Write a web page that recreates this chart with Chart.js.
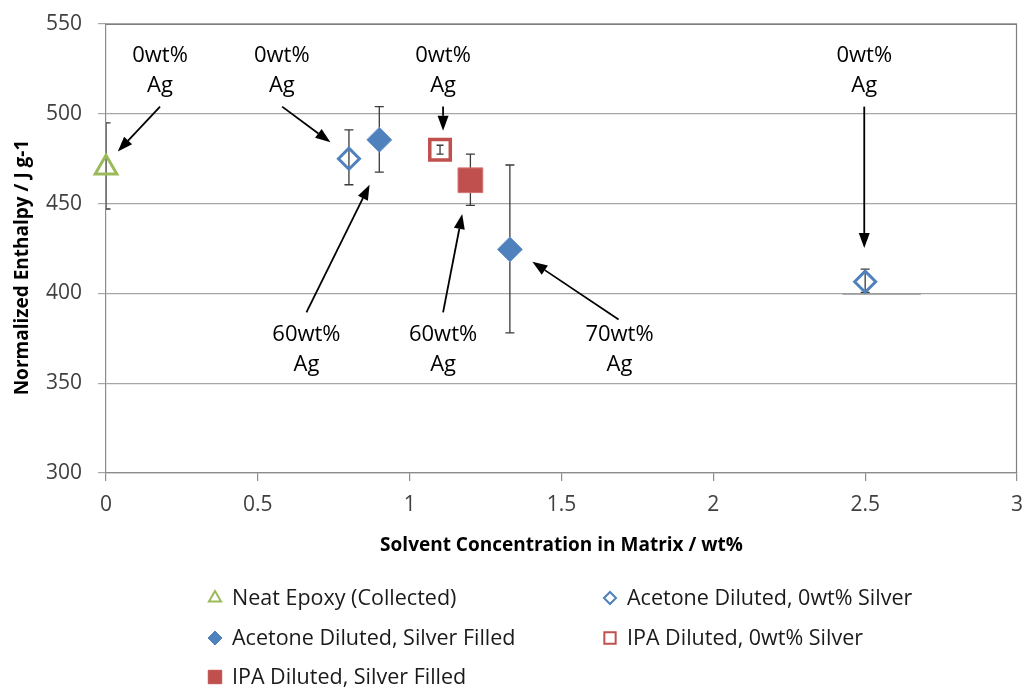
<!DOCTYPE html>
<html>
<head>
<meta charset="utf-8">
<title>Normalized Enthalpy vs Solvent Concentration</title>
<script src="https://cdn.jsdelivr.net/npm/chart.js@4.4.1/dist/chart.umd.min.js"></script>
<style>
  html, body { margin: 0; padding: 0; background: #fff; overflow: hidden; }
  canvas { display: block; }
</style>
</head>
<body>
<canvas id="chart" width="1025" height="689"></canvas>
<script>
/* ---- values ---- */
const neatX = [0];
const neatY = [470];
const neatLo = [447];
const neatHi = [495];

const acetone0X = [0.8, 2.5];
const acetone0Y = [475, 406.5];
const acetone0Lo = [460.5, 400.5];
const acetone0Hi = [491, 413.5];

const acetoneAgX = [0.9, 1.33];
const acetoneAgY = [485.5, 424.5];
const acetoneAgLo = [467.5, 378];
const acetoneAgHi = [504, 471.5];

const ipa0X = [1.1];
const ipa0Y = [480];
const ipa0Lo = [477.5];
const ipa0Hi = [482.5];

const ipaAgX = [1.2];
const ipaAgY = [463];
const ipaAgLo = [449];
const ipaAgHi = [477.5];

// short grey segment sitting on the 400 line near x = 2.5
const strayX = [2.425, 2.683];
const strayY = [399.7, 399.7];

const xTicks = [0, 0.5, 1, 1.5, 2, 2.5, 3];
const yTicks = [300, 350, 400, 450, 500, 550];

// callouts: label lines, label anchor, arrow start and tip (data units)
const noteText = [
  ['0wt%', 'Ag'], ['0wt%', 'Ag'], ['0wt%', 'Ag'], ['0wt%', 'Ag'],
  ['60wt%', 'Ag'], ['60wt%', 'Ag'], ['70wt%', 'Ag']
];
const noteAt = [[0.178, 532.3], [0.579, 532.3], [1.110, 532.3], [2.497, 532.3],
                [0.660, 377.1], [1.110, 377.1], [1.691, 377.1]];
const arrowFrom = [[0.178, 504], [0.580, 504], [1.110, 504], [2.497, 504],
                   [0.660, 389.4], [1.110, 389.4], [1.688, 385.5]];
const arrowTo = [[0.039, 479], [0.739, 484.1], [1.110, 490.6], [2.497, 425.3],
                 [0.868, 460.5], [1.173, 444.2], [1.404, 417.6]];

const yTitle = 'Normalized Enthalpy / J g-1';

const GREEN = '#9BBB59';
const BLUE = '#4F81BD';
const RED = '#C0504D';

const toPts = (xs, ys) => xs.map((x, i) => ({ x, y: ys[i] }));

Chart.defaults.font.family = "'Open Sans', sans-serif";
Chart.defaults.color = '#404040';

// Error bars drawn behind the markers
const errorBars = {
  id: 'errorBars',
  beforeDatasetsDraw(chart) {
    const { ctx, chartArea, scales: { x, y } } = chart;
    ctx.save();
    ctx.beginPath();
    ctx.rect(chartArea.left, chartArea.top, chartArea.right - chartArea.left, chartArea.bottom - chartArea.top);
    ctx.clip();
    ctx.strokeStyle = '#3a3a3a';
    ctx.lineWidth = 1.3;
    chart.data.datasets.forEach(ds => {
      if (!ds.errLo) return;
      ds.data.forEach((p, i) => {
        const px = x.getPixelForValue(p.x);
        const top = y.getPixelForValue(ds.errHi[i]);
        const bot = y.getPixelForValue(ds.errLo[i]);
        const cap = ds.capHalf || 4.5;
        ctx.beginPath();
        ctx.moveTo(px, top); ctx.lineTo(px, bot);
        ctx.moveTo(px - cap, top); ctx.lineTo(px + cap, top);
        ctx.moveTo(px - cap, bot); ctx.lineTo(px + cap, bot);
        ctx.stroke();
      });
    });
    ctx.restore();
  }
};

// Frame, y title, callouts and the two-column legend
const extras = {
  id: 'extras',
  afterDraw(chart) {
    const { ctx, chartArea: a, scales: { x, y } } = chart;
    ctx.save();

    // plot frame (top + right)
    ctx.strokeStyle = '#7f7f7f';
    ctx.lineWidth = 1.2;
    ctx.beginPath();
    ctx.moveTo(a.left, a.top + 0.5);
    ctx.lineTo(a.right - 0.5, a.top + 0.5);
    ctx.lineTo(a.right - 0.5, a.bottom);
    ctx.stroke();

    // y axis title (Excel centres it a little below the plot middle)
    ctx.save();
    ctx.translate(23, (a.top + a.bottom) / 2 + 19);
    ctx.rotate(-Math.PI / 2);
    ctx.font = "bold 19px 'Open Sans', sans-serif";
    ctx.fillStyle = '#000';
    ctx.textAlign = 'center';
    ctx.textBaseline = 'middle';
    ctx.fillText(yTitle, 0, 0);
    ctx.restore();

    // callouts
    ctx.fillStyle = '#000';
    ctx.strokeStyle = '#000';
    ctx.font = "22px 'Open Sans', sans-serif";
    ctx.textAlign = 'center';
    ctx.textBaseline = 'middle';
    noteText.forEach((lines, i) => {
      const tx = x.getPixelForValue(noteAt[i][0]);
      const ty = y.getPixelForValue(noteAt[i][1]);
      lines.forEach((t, k) => ctx.fillText(t, tx, ty + k * 30));

      const x0 = x.getPixelForValue(arrowFrom[i][0]);
      const y0 = y.getPixelForValue(arrowFrom[i][1]);
      const x1 = x.getPixelForValue(arrowTo[i][0]);
      const y1 = y.getPixelForValue(arrowTo[i][1]);
      const ang = Math.atan2(y1 - y0, x1 - x0);
      const len = 15, half = 5.5;
      const bx = x1 - Math.cos(ang) * len;
      const by = y1 - Math.sin(ang) * len;
      ctx.lineWidth = 1.8;
      ctx.beginPath();
      ctx.moveTo(x0, y0);
      ctx.lineTo(bx, by);
      ctx.stroke();
      ctx.beginPath();
      ctx.moveTo(x1, y1);
      ctx.lineTo(bx - Math.sin(ang) * half, by + Math.cos(ang) * half);
      ctx.lineTo(bx + Math.sin(ang) * half, by - Math.cos(ang) * half);
      ctx.closePath();
      ctx.fill();
    });

    // legend
    const colX = [215, 610];
    const rowY = [598, 638, 677];
    ctx.textAlign = 'left';
    ctx.font = "21.5px 'Open Sans', sans-serif";
    chart.data.datasets.filter(ds => ds.legendSymbol).forEach((ds, i) => {
      const cx = colX[i % 2];
      const cy = rowY[Math.floor(i / 2)];
      const s = ds.legendSymbol;
      ctx.fillStyle = s.fill;
      ctx.strokeStyle = s.stroke;
      ctx.lineWidth = s.width;
      Chart.helpers.drawPoint(ctx, {
        pointStyle: ds.pointStyle, radius: s.radius, borderWidth: s.width, rotation: 0
      }, cx, cy);
      ctx.fillStyle = '#1a1a1a';
      ctx.fillText(ds.label, cx + 17, cy + 1);
    });
    ctx.restore();
  }
};

new Chart(document.getElementById('chart'), {
  type: 'scatter',
  data: {
    datasets: [
      {
        label: 'Neat Epoxy (Collected)',
        data: toPts(neatX, neatY), errLo: neatLo, errHi: neatHi,
        pointStyle: 'triangle', pointRadius: 12.5, pointBorderWidth: 3,
        pointBorderColor: GREEN, pointBackgroundColor: 'rgba(0,0,0,0)',
        legendSymbol: { radius: 7, width: 2, stroke: GREEN, fill: 'rgba(0,0,0,0)' }
      },
      {
        label: 'Acetone Diluted, 0wt% Silver',
        data: toPts(acetone0X, acetone0Y), errLo: acetone0Lo, errHi: acetone0Hi,
        pointStyle: 'rectRot', pointRadius: 10.5, pointBorderWidth: 3,
        pointBorderColor: BLUE, pointBackgroundColor: 'rgba(0,0,0,0)',
        legendSymbol: { radius: 6, width: 2, stroke: BLUE, fill: 'rgba(0,0,0,0)' }
      },
      {
        label: 'Acetone Diluted, Silver Filled',
        data: toPts(acetoneAgX, acetoneAgY), errLo: acetoneAgLo, errHi: acetoneAgHi,
        pointStyle: 'rectRot', pointRadius: 12.5, pointBorderWidth: 1,
        pointBorderColor: '#6f97cc', pointBackgroundColor: BLUE,
        legendSymbol: { radius: 7, width: 1, stroke: BLUE, fill: BLUE }
      },
      {
        label: 'IPA Diluted, 0wt% Silver',
        data: toPts(ipa0X, ipa0Y), errLo: ipa0Lo, errHi: ipa0Hi, capHalf: 3.5,
        pointStyle: 'rect', pointRadius: 14.5, pointBorderWidth: 3.5,
        pointBorderColor: RED, pointBackgroundColor: 'rgba(0,0,0,0)',
        legendSymbol: { radius: 8, width: 2, stroke: RED, fill: 'rgba(0,0,0,0)' }
      },
      {
        label: 'IPA Diluted, Silver Filled',
        data: toPts(ipaAgX, ipaAgY), errLo: ipaAgLo, errHi: ipaAgHi,
        pointStyle: 'rect', pointRadius: 17.5, pointBorderWidth: 1,
        pointBorderColor: '#d07573', pointBackgroundColor: RED,
        legendSymbol: { radius: 9.5, width: 1, stroke: RED, fill: RED }
      },
      {
        label: 'stray',
        data: toPts(strayX, strayY),
        showLine: true, pointRadius: 0, borderColor: '#9a9a9a', borderWidth: 1.6
      }
    ]
  },
  options: {
    responsive: false,
    animation: false,
    clip: false,
    // big markers would otherwise widen the padding on every side
    layout: { autoPadding: false, padding: { top: 24, right: 8, bottom: 121, left: 0 } },
    plugins: {
      legend: { display: false },
      tooltip: { enabled: false }
    },
    scales: {
      x: {
        type: 'linear', min: 0, max: 3,
        afterFit: s => { s.height = 95; },
        afterBuildTicks: s => { s.ticks = xTicks.map(v => ({ value: v })); },
        ticks: { padding: 0, font: { size: 21, lineHeight: 2.29 }, color: '#404040', callback: v => String(v) },
        grid: { drawOnChartArea: false, drawTicks: true, tickLength: 8, color: '#8c8c8c', lineWidth: 1.2 },
        border: { color: '#8c8c8c', width: 1.2 },
        title: {
          display: true, text: 'Solvent Concentration in Matrix / wt%',
          font: { size: 19, weight: 'bold' }, color: '#000',
          padding: { top: 0, bottom: 11 }
        }
      },
      y: {
        type: 'linear', min: 300, max: 550,
        afterFit: s => { s.width = 106; s.paddingTop = 0; s.paddingBottom = 0; },
        afterBuildTicks: s => { s.ticks = yTicks.map(v => ({ value: v })); },
        ticks: { padding: 16, font: { size: 21 }, color: '#404040' },
        grid: { drawTicks: true, tickLength: 8, color: '#a6a6a6', lineWidth: 1.2 },
        border: { color: '#8c8c8c', width: 1.2 },
        title: { display: false }
      }
    }
  },
  plugins: [errorBars, extras]
});
</script>
</body>
</html>
